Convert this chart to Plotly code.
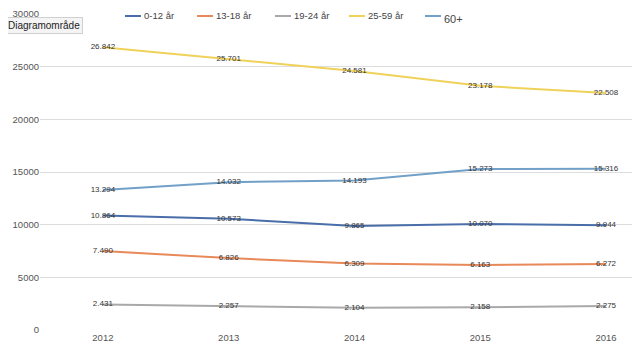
import plotly.graph_objects as go

years = ["2012", "2013", "2014", "2015", "2016"]
series_names = ["0-12 år", "13-18 år", "19-24 år", "25-59 år", "60+"]
v_0_12 = [10864, 10573, 9865, 10070, 9944]
v_13_18 = [7490, 6826, 6309, 6163, 6272]
v_19_24 = [2431, 2257, 2104, 2158, 2275]
v_25_59 = [26842, 25701, 24581, 23178, 22508]
v_60 = [13294, 14032, 14193, 15273, 15316]
y_ticks = [0, 5000, 10000, 15000, 20000, 25000, 30000]

series_values = [v_0_12, v_13_18, v_19_24, v_25_59, v_60]
colors = ["#4a6ea9", "#e8895a", "#a9a9a9", "#efd25a", "#72a0c8"]

def fmt(v):
    return f"{v:,}".replace(",", ".")

fig = go.Figure()
for name, vals, col in zip(series_names, series_values, colors):
    fig.add_trace(go.Scatter(
        x=years, y=vals, name=name, mode="lines+text",
        line=dict(color=col, width=2),
        text=[fmt(v) for v in vals], textposition="middle center",
        textfont=dict(size=8, color="#333333", family="Liberation Sans"),
        showlegend=False, cliponaxis=False,
    ))

# custom legend (screen px -> paper coords; plot area spans x 40..640, y 12..330)
leg_x = [125, 197, 275, 349, 425]
shapes = []
annotations = []
for i, (name, col) in enumerate(zip(series_names, colors)):
    x0 = leg_x[i]
    shapes.append(dict(type="line", xref="paper", yref="paper",
                       x0=(x0 - 40) / 600, x1=(x0 + 16 - 40) / 600,
                       y0=1 - (14 - 12) / 318, y1=1 - (14 - 12) / 318,
                       line=dict(color=col, width=2)))
    big = name == "60+"
    annotations.append(dict(xref="paper", yref="paper",
                            x=(x0 + 17 - 40) / 600,
                            y=1 - ((17 if big else 14) - 12) / 318,
                            text=name, showarrow=False, xanchor="left", yanchor="middle",
                            font=dict(size=11 if big else 9.5, color="#444444",
                                      family="Liberation Sans")))

annotations.append(dict(xref="paper", yref="paper", x=(5 - 40) / 600, y=1 - (23.5 - 12) / 318,
                        text="Diagramområde", showarrow=False, xanchor="left", yanchor="middle",
                        font=dict(size=10, color="#222222", family="Liberation Sans"),
                        bgcolor="#f4f4f4", bordercolor="#d0d0d0", borderwidth=1, borderpad=2))

fig.update_layout(
    width=632, height=352,
    margin=dict(l=32, r=0, t=4, b=30),
    paper_bgcolor="white", plot_bgcolor="white",
    font=dict(family="Liberation Sans", color="#555555", size=9.5),
    xaxis=dict(type="category", range=[-0.5, 4.27], showgrid=False, zeroline=False,
               showline=False, ticks="", tickfont=dict(size=9.5, color="#555555")),
    yaxis=dict(range=[0, 30000], tickvals=y_ticks, ticktext=[str(t) for t in y_ticks],
               showgrid=True, gridcolor="#dddddd", gridwidth=1, zeroline=False,
               showline=False, ticks="", ticklabeloverflow="allow",
               tickfont=dict(size=9.5, color="#555555")),
    shapes=shapes, annotations=annotations,
)

fig.write_html("out.html")
